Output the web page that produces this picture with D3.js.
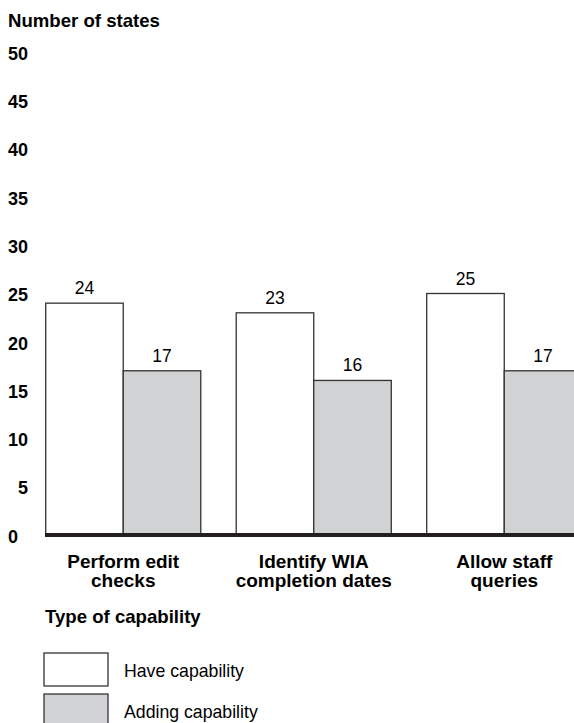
<!DOCTYPE html>
<html>
<head>
<meta charset="utf-8">
<script src="https://cdn.jsdelivr.net/npm/d3@7"></script>
<style>
  body { margin: 0; background: #fff; }
  svg { display: block; font-family: "Liberation Sans", Arial, Helvetica, sans-serif; }
  .bold { font-weight: bold; }
</style>
</head>
<body>
<svg width="574" height="723"></svg>
<script>
const categories = [
  ["Perform edit", "checks"],
  ["Identify WIA", "completion dates"],
  ["Allow staff", "queries"]
];
const seriesNames = ["Have capability", "Adding capability"];
const haveValues = [24, 23, 25];
const addingValues = [17, 16, 17];
const yTicks = [0, 5, 10, 15, 20, 25, 30, 35, 40, 45, 50];
const colors = ["#ffffff", "#d1d2d4"];

const svg = d3.select("svg");
const width = +svg.attr("width");

const data = categories.map((c, i) => ({
  key: c.join(" "),
  lines: c,
  values: [haveValues[i], addingValues[i]]
}));

const yScale = d3.scaleLinear().domain([0, 50]).range([535, 52]);

const x0 = d3.scaleBand()
  .domain(data.map(d => d.key))
  .range([45.7, 581.8])
  .paddingInner(0.186)
  .paddingOuter(0);

const x1 = d3.scaleBand()
  .domain(seriesNames)
  .range([0, x0.bandwidth()])
  .padding(0);

// y axis title
svg.append("text")
  .attr("class", "bold")
  .attr("x", 8)
  .attr("y", 27)
  .attr("font-size", 18.6)
  .text("Number of states");

// y axis labels only
const yAxisG = svg.append("g")
  .attr("transform", "translate(28,0)")
  .call(d3.axisLeft(yScale).tickValues(yTicks).tickSize(0).tickPadding(0));
yAxisG.select(".domain").remove();
yAxisG.selectAll("text")
  .attr("font-family", null)
  .attr("class", "bold")
  .attr("font-size", 18)
  .attr("fill", "#000")
  .attr("dy", "0.4em");
yAxisG.selectAll(".tick")
  .filter(d => d === 0)
  .select("text")
  .attr("text-anchor", "start")
  .attr("x", -20);

// bars
const groups = svg.append("g")
  .selectAll("g")
  .data(data)
  .join("g")
  .attr("transform", d => `translate(${x0(d.key)},0)`);

groups.selectAll("rect")
  .data(d => d.values.map((v, i) => ({ series: seriesNames[i], value: v, i })))
  .join("rect")
  .attr("x", d => x1(d.series))
  .attr("y", d => yScale(d.value))
  .attr("width", x1.bandwidth())
  .attr("height", d => yScale(0) - yScale(d.value))
  .attr("fill", d => colors[d.i])
  .attr("stroke", "#333")
  .attr("stroke-width", 1.3);

groups.selectAll("text.value")
  .data(d => d.values.map((v, i) => ({ series: seriesNames[i], value: v })))
  .join("text")
  .attr("class", "value")
  .attr("x", d => x1(d.series) + x1.bandwidth() / 2)
  .attr("y", d => yScale(d.value) - 9)
  .attr("text-anchor", "middle")
  .attr("font-size", 17.5)
  .text(d => d.value);

// baseline
svg.append("line")
  .attr("x1", 45)
  .attr("x2", width)
  .attr("y1", yScale(0))
  .attr("y2", yScale(0))
  .attr("stroke", "#231f20")
  .attr("stroke-width", 4);

// category labels
const catLabels = svg.append("g")
  .selectAll("text")
  .data(data)
  .join("text")
  .attr("class", "bold")
  .attr("font-size", 19)
  .attr("text-anchor", "middle")
  .attr("transform", d => `translate(${x0(d.key) + x0.bandwidth() / 2},568)`);
catLabels.selectAll("tspan")
  .data(d => d.lines)
  .join("tspan")
  .attr("x", 0)
  .attr("y", (d, i) => i * 19)
  .text(d => d);

// legend
svg.append("text")
  .attr("class", "bold")
  .attr("x", 45)
  .attr("y", 623)
  .attr("font-size", 18.6)
  .text("Type of capability");

const legend = svg.append("g")
  .selectAll("g")
  .data(seriesNames)
  .join("g")
  .attr("transform", (d, i) => `translate(44,${653 + i * 41})`);

legend.append("rect")
  .attr("width", 64)
  .attr("height", 33)
  .attr("fill", (d, i) => colors[i])
  .attr("stroke", "#333")
  .attr("stroke-width", 1.3);

legend.append("text")
  .attr("x", 80)
  .attr("y", 24)
  .attr("font-size", 17.7)
  .text(d => d);
</script>
</body>
</html>
